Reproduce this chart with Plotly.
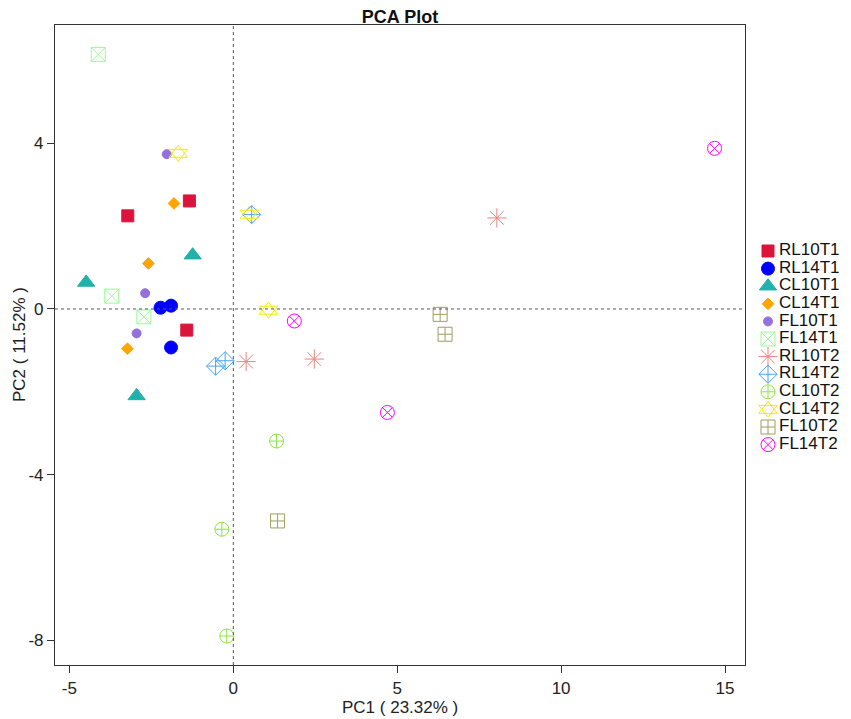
import plotly.graph_objects as go

# PCA scores per group
groups = ['RL10T1', 'RL14T1', 'CL10T1', 'CL14T1', 'FL10T1', 'FL14T1',
          'RL10T2', 'RL14T2', 'CL10T2', 'CL14T2', 'FL10T2', 'FL14T2']

pc1 = {
    'RL10T1': [-1.34, -3.22, -1.42],
    'RL14T1': [-2.22, -1.90, -1.90],
    'CL10T1': [-1.24, -4.49, -2.95],
    'CL14T1': [-1.81, -2.59, -3.23],
    'FL10T1': [-2.03, -2.69, -2.95],
    'FL14T1': [-4.12, -3.71, -2.73],
    'RL10T2': [8.04, 0.39, 2.47],
    'RL14T2': [0.56, -0.54, -0.25],
    'CL10T2': [1.32, -0.35, -0.20],
    'CL14T2': [-1.68, 0.49, 1.07],
    'FL10T2': [6.31, 6.46, 1.35],
    'FL14T2': [14.68, 1.86, 4.70],
}
pc2 = {
    'RL10T1': [2.61, 2.25, -0.51],
    'RL14T1': [0.03, 0.08, -0.93],
    'CL10T1': [1.30, 0.64, -2.10],
    'CL14T1': [2.55, 1.10, -0.96],
    'FL10T1': [3.74, 0.38, -0.59],
    'FL14T1': [6.15, 0.31, -0.19],
    'RL10T2': [2.20, -1.27, -1.21],
    'RL14T2': [2.28, -1.38, -1.25],
    'CL10T2': [-3.19, -5.32, -7.90],
    'CL14T2': [3.76, 2.29, -0.03],
    'FL10T2': [-0.13, -0.61, -5.12],
    'FL14T2': [3.88, -0.29, -2.50],
}

x_ticks = [-5, 0, 5, 10, 15]
x_ticklabels = ['-5', '0', '5', '10', '15']
y_ticks = [-8, -4, 0, 4]
y_ticklabels = ['-8', '-4', '0', '4']

# symbol(s), colour, size  -- CL14T2 is up+down triangles like R's pch 11
styles = {
    'RL10T1': (['square'], '#DC143C', 12),
    'RL14T1': (['circle'], '#0000FF', 13),
    'CL10T1': (['triangle-up'], '#20B2AA', 15),
    'CL14T1': (['diamond'], '#FFA500', 9),
    'FL10T1': (['circle'], '#9370DB', 9),
    'FL14T1': (['square-x-open'], '#98FB98', 14),
    'RL10T2': (['asterisk-open'], '#F08080', 16),
    'RL14T2': (['diamond-cross-open'], '#4FA3F0', 14),
    'CL10T2': (['circle-cross-open'], '#8EE53F', 14),
    'CL14T2': (['triangle-up-open', 'triangle-down-open'], '#F2EE00', 16),
    'FL10T2': (['square-cross-open'], '#9E9E5E', 14),
    'FL14T2': (['circle-x-open'], '#FF00FF', 14),
}

FONT = 'Liberation Sans, Arial, sans-serif'

fig = go.Figure()
for i, g in enumerate(groups):
    syms, col, size = styles[g]
    for sym in syms:
        # scores
        fig.add_trace(go.Scatter(
            x=pc1[g], y=pc2[g], mode='markers', name=g, showlegend=False,
            marker=dict(symbol=sym, color=col, size=size,
                        line=dict(color=col, width=1))
        ))
        # hand-made legend entry on its own axes (R-style tight legend)
        fig.add_trace(go.Scatter(
            x=[23], y=[i], mode='markers', xaxis='x2', yaxis='y2',
            showlegend=False, hoverinfo='skip',
            marker=dict(symbol=sym, color=col, size=size,
                        line=dict(color=col, width=1))
        ))
fig.add_trace(go.Scatter(
    x=[34] * len(groups), y=list(range(len(groups))), mode='text',
    text=groups, textposition='middle right', xaxis='x2', yaxis='y2',
    showlegend=False, hoverinfo='skip',
    textfont=dict(family=FONT, size=17, color='#111111')
))

# dotted zero lines
fig.add_hline(y=0, line=dict(color='#555555', width=1, dash='dot'))
fig.add_vline(x=0, line=dict(color='#555555', width=1, dash='dot'))

main_right = 690 / 804

axis_common = dict(
    showgrid=False, zeroline=False, showline=True, mirror=True,
    linecolor='#333333', linewidth=1.2, ticks='outside', ticklen=7,
    tickcolor='#333333', tickfont=dict(size=17), automargin=False,
)

fig.update_layout(
    width=851, height=719,
    margin=dict(l=47, r=0, t=17, b=62),
    plot_bgcolor='white', paper_bgcolor='white',
    font=dict(family=FONT, size=17, color='#222222'),
    title=dict(text='<b>PCA Plot</b>', x=392 / 851, xanchor='center',
               y=1, yanchor='top', pad=dict(t=2),
               font=dict(size=18, color='#111111')),
    showlegend=False,
    xaxis=dict(domain=[0, main_right], range=[-5.44, 15.61],
               tickvals=x_ticks, ticktext=x_ticklabels, **axis_common),
    yaxis=dict(domain=[0, 1], range=[-8.60, 6.86],
               tickvals=y_ticks, ticktext=y_ticklabels, **axis_common),
    xaxis2=dict(domain=[main_right, 1], range=[0, 114], visible=False,
                anchor='y2', fixedrange=True),
    yaxis2=dict(domain=[0, 1], range=[23.52, -12.84], visible=False,
                anchor='x2', fixedrange=True),
    annotations=[
        dict(text='PC1 ( 23.32% )', xref='paper', yref='paper',
             x=main_right / 2, y=-42 / 640, xanchor='center', yanchor='middle',
             showarrow=False, font=dict(size=17, color='#222222')),
        dict(text='PC2 ( 11.52% )', xref='paper', yref='paper',
             x=-36 / 804, y=0.5, xanchor='center', yanchor='middle',
             textangle=-90, showarrow=False,
             font=dict(size=17, color='#222222')),
    ],
)

fig.write_html('out.html')
